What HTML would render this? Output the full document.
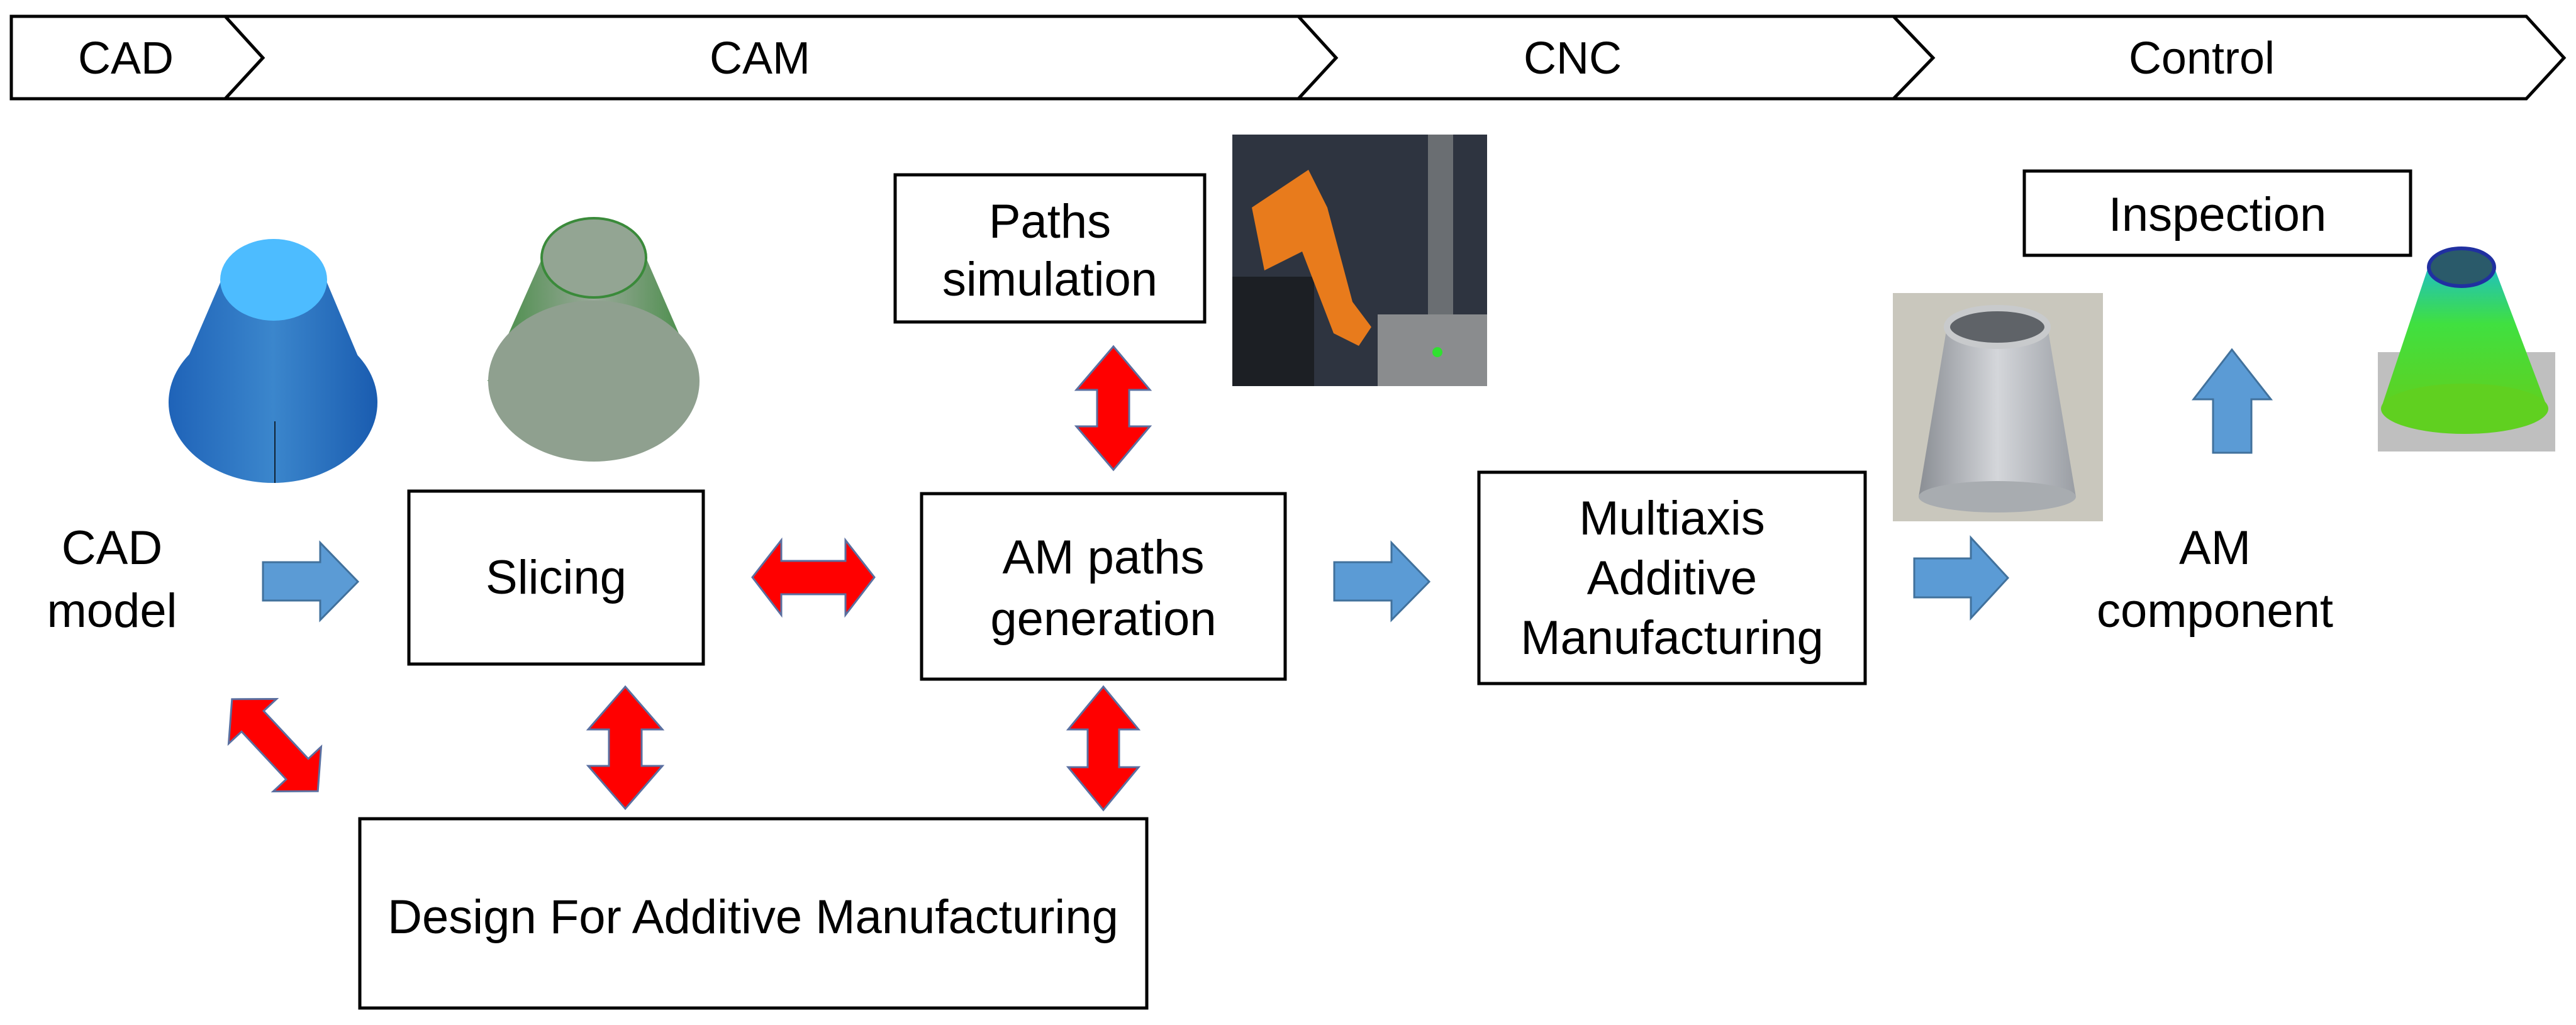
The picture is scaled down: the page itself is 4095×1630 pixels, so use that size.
<!DOCTYPE html>
<html><head><meta charset="utf-8"><style>
html,body{margin:0;padding:0;background:#fff}
svg{display:block}
text{font-family:"Liberation Sans",sans-serif;fill:#000}
</style></head><body>
<svg width="4095" height="1630" viewBox="0 0 4095 1630" xmlns="http://www.w3.org/2000/svg">
<defs>
<linearGradient id="bc" x1="0" x2="1"><stop offset="0" stop-color="#1f63b8"/><stop offset="0.5" stop-color="#3b86cc"/><stop offset="1" stop-color="#1a5cb0"/></linearGradient>
<linearGradient id="gc" x1="0" x2="1"><stop offset="0" stop-color="#3e8a3e"/><stop offset="0.5" stop-color="#9aa89a"/><stop offset="1" stop-color="#3e8a3e"/></linearGradient>
<linearGradient id="sc" x1="0" x2="1"><stop offset="0" stop-color="#8a8e94"/><stop offset="0.5" stop-color="#d4d6da"/><stop offset="1" stop-color="#9a9ea4"/></linearGradient>
<linearGradient id="vc" x1="0" x2="0" y1="0" y2="1"><stop offset="0" stop-color="#20c0c0"/><stop offset="0.4" stop-color="#40e040"/><stop offset="1" stop-color="#60d020"/></linearGradient>
</defs>
<g fill="#fff" stroke="#000" stroke-width="5">
<polygon points="18,26 3073,26 3073,157 18,157"/>
<polygon points="18,26 358,26 418,92 358,157 18,157"/>
<polygon points="358,26 2064,26 2124,92 2064,157 358,157 418,92"/>
<polygon points="2064,26 3010,26 3073,92 3010,157 2064,157 2124,92"/>
<polygon points="3010,26 4016,26 4076,92 4016,157 3010,157 3073,92"/>
</g>
<g font-size="72" text-anchor="middle">
<text x="200" y="117">CAD</text>
<text x="1208" y="117">CAM</text>
<text x="2500" y="117">CNC</text>
<text x="3500" y="117">Control</text>
</g>
<polygon points="352,445 518,445 600,640 268,640" fill="url(#bc)"/>
<ellipse cx="434" cy="640" rx="166" ry="128" fill="url(#bc)"/>
<ellipse cx="435" cy="445" rx="85" ry="65" fill="#4dbcff"/>
<line x1="437" y1="670" x2="437" y2="768" stroke="#123" stroke-width="2"/>
<polygon points="862,410 1027,410 1112,606 775,606" fill="url(#gc)"/>
<ellipse cx="944" cy="606" rx="168" ry="128" fill="#8fa08f"/>
<ellipse cx="944" cy="410" rx="83" ry="63" fill="#93a593" stroke="#3a8a3a" stroke-width="4"/>
<rect x="1959" y="214" width="405" height="400" fill="#2e3440"/>
<rect x="2270" y="214" width="40" height="400" fill="#6a6e72"/>
<rect x="2190" y="500" width="174" height="114" fill="#8a8c8e"/>
<rect x="1959" y="440" width="130" height="174" fill="#1c1f24"/>
<path d="M1990,330 L2080,270 L2110,330 L2150,480 L2180,520 L2160,550 L2120,530 L2070,400 L2010,430 Z" fill="#e87b1c"/>
<circle cx="2285" cy="560" r="8" fill="#30e030"/>
<rect x="3009" y="466" width="334" height="363" fill="#c9c7bd"/>
<polygon points="3095,520 3255,520 3300,790 3050,790" fill="url(#sc)"/>
<ellipse cx="3175" cy="790" rx="125" ry="25" fill="#a8acb0"/>
<ellipse cx="3175" cy="520" rx="80" ry="30" fill="#5f6368" stroke="#c8cacc" stroke-width="10"/>
<rect x="3780" y="560" width="282" height="158" fill="#bfbfbf"/>
<polygon points="3860,425 3965,425 4050,650 3785,650" fill="url(#vc)"/>
<ellipse cx="3918" cy="650" rx="133" ry="40" fill="#60d020"/>
<ellipse cx="3913" cy="425" rx="52" ry="30" fill="#2a5a6a" stroke="#2030a0" stroke-width="6"/>
<g fill="#fff" stroke="#000" stroke-width="5">
<rect x="1423" y="278" width="492" height="234"/>
<rect x="3218" y="272" width="614" height="134"/>
<rect x="650" y="781" width="468" height="275"/>
<rect x="1465" y="785" width="578" height="295"/>
<rect x="2351" y="751" width="614" height="336"/>
<rect x="572" y="1302" width="1251" height="301"/>
</g>
<g font-size="76" text-anchor="middle">
<text x="1669" y="378">Paths</text>
<text x="1669" y="470">simulation</text>
<text x="3525" y="367">Inspection</text>
<text x="884" y="944">Slicing</text>
<text x="1754" y="912">AM paths</text>
<text x="1754" y="1010">generation</text>
<text x="2658" y="850">Multiaxis</text>
<text x="2658" y="945">Additive</text>
<text x="2658" y="1040">Manufacturing</text>
<text x="1197" y="1484">Design For Additive Manufacturing</text>
<text x="178" y="897">CAD</text>
<text x="178" y="997">model</text>
<text x="3521" y="897">AM</text>
<text x="3521" y="997">component</text>
</g>
<g fill="#5b9bd5" stroke="#41719c" stroke-width="3">
<polygon points="418,894 509,894 509,863 569,925 509,986 509,955 418,955"/>
<polygon points="2121,894 2212,894 2212,863 2272,925 2212,986 2212,955 2121,955"/>
<polygon points="3043,888 3133,888 3133,855 3192,919 3133,983 3133,950 3043,950"/>
<polygon points="3518,720 3518,635 3487,635 3548,556 3610,635 3579,635 3579,720"/>
</g>
<g fill="#ff0000" stroke="#5a6fa0" stroke-width="3">
<polygon points="1196,918 1242,859 1242,892 1344,892 1344,859 1390,918 1344,978 1344,945 1242,945 1242,978"/>
<polygon points="1770,551 1828,620 1795,620 1795,678 1828,678 1770,747 1711,678 1744,678 1744,620 1711,620"/>
<polygon points="994,1092 1053,1160 1020,1160 1020,1218 1053,1218 994,1286 935,1218 968,1218 968,1160 935,1160"/>
<polygon points="1754,1092 1810,1160 1779,1160 1779,1220 1810,1220 1754,1288 1698,1220 1729,1220 1729,1160 1698,1160"/>
<polygon transform="translate(437,1185) rotate(47)" points="-100,0 -52,-52 -52,-24 52,-24 52,-52 100,0 52,52 52,24 -52,24 -52,52"/>
</g>
</svg>
</body></html>
